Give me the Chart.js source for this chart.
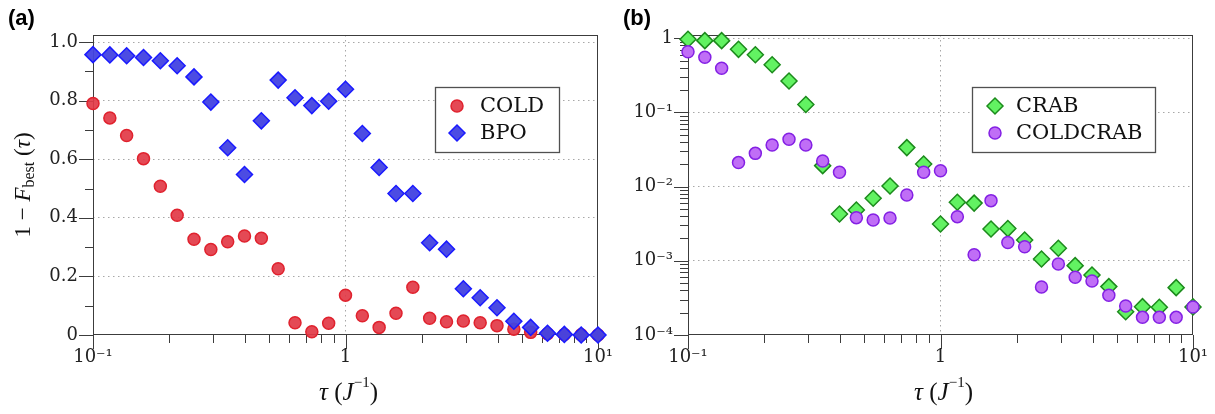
<!DOCTYPE html>
<html lang="en">
<head>
    <meta charset="UTF-8">
    <title>Fidelity vs tau</title>
    <script src="https://cdn.jsdelivr.net/npm/chart.js"></script>
    <style>
        body { margin: 0; background: #fff; width: 1215px; height: 414px; overflow: hidden; position: relative; }
        .panel { position: absolute; top: 0; }
        #panelA { left: 0; }
        #panelB { left: 607px; }
    </style>
</head>
<body>
    <div class="panel" id="panelA"><canvas id="chartA" width="638" height="414"></canvas></div>
    <div class="panel" id="panelB"><canvas id="chartB" width="626" height="414"></canvas></div>

    <script>
        // tau values (J^-1), shared by both panels
        const tau = [0.1, 0.1166, 0.1359, 0.1585, 0.1848, 0.2154, 0.2512, 0.2929, 0.3415, 0.3981,
                     0.4642, 0.5412, 0.631, 0.7356, 0.8577, 1, 1.166, 1.359, 1.585, 1.848,
                     2.154, 2.512, 2.929, 3.415, 3.981, 4.642, 5.412, 6.31, 7.356, 8.577, 10];

        // panel (a): 1 - F_best, linear axis
        const cold = [0.790, 0.741, 0.681, 0.602, 0.508, 0.409, 0.327, 0.292, 0.318, 0.338,
                      0.330, 0.226, 0.042, 0.011, 0.040, 0.136, 0.066, 0.026, 0.074, 0.163,
                      0.057, 0.045, 0.048, 0.042, 0.032, 0.020, 0.009, 0.004, 0.002, 0.001, 0.0];
        const bpo = [0.957, 0.956, 0.953, 0.947, 0.936, 0.919, 0.881, 0.795, 0.639, 0.548,
                     0.731, 0.870, 0.810, 0.783, 0.798, 0.839, 0.688, 0.572, 0.483, 0.483,
                     0.315, 0.293, 0.158, 0.127, 0.093, 0.047, 0.026, 0.006, 0.002, 0.0, 0.0];

        // panel (b): 1 - F_best, log axis
        const crab = [0.97, 0.93, 0.93, 0.71, 0.60, 0.44, 0.266, 0.128, 0.0192, 0.00428,
                      0.00484, 0.00697, 0.0102, 0.0336, 0.0202, 0.00314, 0.00615, 0.0060, 0.00269, 0.00272,
                      0.00191, 0.00106, 0.00148, 0.000861, 0.000644, 0.000449, 0.000206, 0.000241, 0.000236, 0.000435, 0.000239];
        const coldcrab = [0.66, 0.554, 0.394, 0.0211, 0.0281, 0.0365, 0.0435, 0.0365, 0.0222, 0.0156,
                          0.00382, 0.00355, 0.00378, 0.00773, 0.0156, 0.0164, 0.00394, 0.00121, 0.00648, 0.00177,
                          0.00155, 0.000444, 0.000906, 0.0006, 0.000535, 0.000343, 0.000246, 0.000173, 0.000173, 0.000173, 0.000239];

        // ticks
        const xTickValues = [0.1, 0.2, 0.3, 0.4, 0.5, 0.6, 0.7, 0.8, 0.9, 1, 2, 3, 4, 5, 6, 7, 8, 9, 10];
        const xMajor = [0.1, 1, 10];
        const xMajorLabels = ['10\u207B\u00B9', '1', '10\u00B9'];
        const yTickValuesA = [0, 0.1, 0.2, 0.3, 0.4, 0.5, 0.6, 0.7, 0.8, 0.9, 1.0];
        const yMajorA = [0, 0.2, 0.4, 0.6, 0.8, 1.0];
        const yMajorLabelsA = ['0', '0.2', '0.4', '0.6', '0.8', '1.0'];
        const yDecadesB = [1e-4, 1e-3, 1e-2, 1e-1, 1];
        const yMajorLabelsB = ['10\u207B\u2074', '10\u207B\u00B3', '10\u207B\u00B2', '10\u207B\u00B9', '1'];

        const yTickValuesB = [];
        yDecadesB.forEach((d, i) => {
            if (i === yDecadesB.length - 1) { yTickValuesB.push(d); return; }
            for (let m = 1; m <= 9; m++) yTickValuesB.push(+(d * m).toPrecision(3));
        });

        const near = (a, b) => Math.abs(a - b) <= Math.abs(b) * 1e-6 + 1e-9;
        const findIn = (list, v) => list.findIndex(m => near(v, m));

        const tickFont = { family: 'DejaVu Serif', size: 18 };
        const gridColor = '#a8a8a8';

        function xScale() {
            return {
                type: 'logarithmic',
                min: 0.1, max: 10,
                afterBuildTicks: s => { s.ticks = xTickValues.map(v => ({ value: v })); },
                afterFit: s => { s.height = 79; },
                ticks: {
                    autoSkip: false, maxRotation: 0, padding: 12, color: '#222', font: tickFont,
                    callback: v => { const i = findIn(xMajor, v); return i >= 0 ? xMajorLabels[i] : ''; }
                },
                grid: {
                    drawTicks: false, lineWidth: 1,
                    color: c => (c.tick && near(c.tick.value, 1)) ? gridColor : 'rgba(0,0,0,0)'
                },
                border: { display: false, dash: [1.5, 3.5] }
            };
        }

        // frame, tick marks, legend, axis titles, panel letter
        function decorPlugin(cfg) {
            return {
                id: 'decor',
                beforeDatasetsDraw(chart) {
                    const { ctx, chartArea: a, scales: { x, y } } = chart;
                    ctx.save();
                    ctx.strokeStyle = '#3c3c3c';
                    ctx.lineWidth = 1;
                    ctx.strokeRect(Math.round(a.left) + 0.5, Math.round(a.top) + 0.5,
                                   Math.round(a.right - a.left) - 1, Math.round(a.bottom - a.top) - 1);
                    ctx.beginPath();
                    x.ticks.forEach(t => {
                        const px = Math.round(x.getPixelForValue(t.value)) + 0.5;
                        const len = findIn(xMajor, t.value) >= 0 ? 14 : 8;
                        ctx.moveTo(px, a.bottom); ctx.lineTo(px, a.bottom + len);
                    });
                    y.ticks.forEach(t => {
                        const py = Math.round(y.getPixelForValue(t.value)) + 0.5;
                        const len = cfg.yIsMajor(t.value) ? 14 : 8;
                        ctx.moveTo(a.left, py); ctx.lineTo(a.left - len, py);
                    });
                    ctx.stroke();
                    ctx.restore();
                },
                afterDraw(chart) {
                    const { ctx, chartArea: a } = chart;
                    ctx.save();
                    // legend
                    const L = cfg.legend;
                    ctx.fillStyle = '#fff';
                    ctx.fillRect(L.x, L.y, L.w, L.h);
                    ctx.strokeStyle = '#505050';
                    ctx.lineWidth = 1.3;
                    ctx.strokeRect(L.x + 0.5, L.y + 0.5, L.w, L.h);
                    L.items.forEach((it, i) => {
                        const ds = chart.data.datasets[it];
                        const cy = L.y + 19 + i * 27;
                        ctx.fillStyle = ds.backgroundColor;
                        ctx.strokeStyle = ds.borderColor;
                        ctx.lineWidth = ds.borderWidth;
                        Chart.helpers.drawPoint(ctx, { pointStyle: ds.pointStyle, radius: ds.pointRadius, rotation: 0, borderWidth: ds.borderWidth }, L.mx, cy);
                        ctx.fillStyle = '#111';
                        ctx.font = '21px "DejaVu Serif"';
                        ctx.textBaseline = 'middle';
                        ctx.textAlign = 'left';
                        ctx.fillText(ds.label, L.tx, cy + 1);
                    });
                    // x title
                    const serif = '"Liberation Serif", "DejaVu Serif", serif';
                    const xParts = [
                        { t: '\u03C4', f: 'italic 25px ' + serif },
                        { t: ' (', f: '25px ' + serif },
                        { t: 'J', f: 'italic 25px ' + serif },
                        { t: '\u22121', f: '15px ' + serif, dy: -10 },
                        { t: ')', f: '25px ' + serif }
                    ];
                    drawRich(ctx, xParts, (a.left + a.right) / 2 + 3, 393, 0);
                    if (cfg.yTitle) {
                        const yParts = [
                            { t: '1 \u2212 ', f: '23px ' + serif },
                            { t: 'F', f: 'italic 23px ' + serif },
                            { t: 'best', f: '16px ' + serif, dy: 6 },
                            { t: ' (', f: '23px ' + serif },
                            { t: '\u03C4', f: 'italic 23px ' + serif },
                            { t: ')', f: '23px ' + serif }
                        ];
                        drawRich(ctx, yParts, 24, (a.top + a.bottom) / 2, -Math.PI / 2);
                    }
                    // panel letter
                    ctx.fillStyle = '#000';
                    ctx.font = 'bold 22px "Liberation Sans", Arial, sans-serif';
                    ctx.textAlign = 'left';
                    ctx.textBaseline = 'alphabetic';
                    ctx.fillText(cfg.letter, cfg.letterX, 25);
                    ctx.restore();
                }
            };
        }

        function drawRich(ctx, parts, cx, cy, rot) {
            ctx.save();
            ctx.translate(cx, cy);
            ctx.rotate(rot);
            let total = 0;
            parts.forEach(p => { ctx.font = p.f; p.w = ctx.measureText(p.t).width; total += p.w; });
            let x = -total / 2;
            ctx.fillStyle = '#111';
            ctx.textBaseline = 'middle';
            ctx.textAlign = 'left';
            parts.forEach(p => { ctx.font = p.f; ctx.fillText(p.t, x, p.dy || 0); x += p.w; });
            ctx.restore();
        }

        function pts(ys) { return tau.map((t, i) => ({ x: t, y: ys[i] })); }

        const common = {
            responsive: false,
            animation: false,
            events: [],
            plugins: { legend: { display: false }, tooltip: { enabled: false } }
        };

        // right padding is wide so the "10¹" overhang never shrinks the plot area
        new Chart(document.getElementById('chartA'), {
            type: 'scatter',
            data: {
                datasets: [
                    { label: 'COLD', data: pts(cold), order: 2, clip: false, pointStyle: 'circle', pointRadius: 6,
                      backgroundColor: 'rgba(226,58,70,0.92)', borderColor: '#e0222e', borderWidth: 1.5 },
                    { label: 'BPO', data: pts(bpo), order: 1, clip: false, pointStyle: 'rectRot', pointRadius: 8,
                      backgroundColor: 'rgba(66,66,226,0.95)', borderColor: '#1a1aff', borderWidth: 1.5 }
                ]
            },
            options: Object.assign({}, common, {
                layout: { padding: { left: 0, right: 40, top: 35, bottom: 0 } },
                scales: {
                    x: xScale(),
                    y: {
                        type: 'linear', min: 0, max: 1.024,
                        afterBuildTicks: s => { s.ticks = yTickValuesA.map(v => ({ value: v })); },
                        afterFit: s => { s.width = 93; },
                        ticks: {
                            autoSkip: false, padding: 15, color: '#222', font: tickFont,
                            callback: v => { const i = findIn(yMajorA, v); return i >= 0 ? yMajorLabelsA[i] : ''; }
                        },
                        grid: {
                            drawTicks: false, lineWidth: 1,
                            color: c => (c.tick && c.tick.value > 0.01 && findIn(yMajorA, c.tick.value) >= 0) ? gridColor : 'rgba(0,0,0,0)'
                        },
                        border: { display: false, dash: [1.5, 3.5] }
                    }
                }
            }),
            plugins: [decorPlugin({
                letter: '(a)', letterX: 8, yTitle: true,
                yIsMajor: v => findIn(yMajorA, v) >= 0,
                legend: { x: 435, y: 87, w: 124, h: 65, mx: 457, tx: 480, items: [0, 1] }
            })]
        });

        new Chart(document.getElementById('chartB'), {
            type: 'scatter',
            data: {
                datasets: [
                    { label: 'CRAB', data: pts(crab), order: 2, clip: false, pointStyle: 'rectRot', pointRadius: 8,
                      backgroundColor: '#62f262', borderColor: '#1c8a1c', borderWidth: 1.5 },
                    { label: 'COLDCRAB', data: pts(coldcrab), order: 1, clip: false, pointStyle: 'circle', pointRadius: 6,
                      backgroundColor: '#c06ef6', borderColor: '#8420e4', borderWidth: 1.5 }
                ]
            },
            options: Object.assign({}, common, {
                layout: { padding: { left: 0, right: 40, top: 35, bottom: 0 } },
                scales: {
                    x: xScale(),
                    y: {
                        type: 'logarithmic', min: 1e-4, max: 1.108,
                        afterBuildTicks: s => { s.ticks = yTickValuesB.map(v => ({ value: v })); },
                        afterFit: s => { s.width = 81; },
                        ticks: {
                            autoSkip: false, padding: 15, color: '#222', font: tickFont,
                            callback: v => { const i = findIn(yDecadesB, v); return i >= 0 ? yMajorLabelsB[i] : ''; }
                        },
                        grid: {
                            drawTicks: false, lineWidth: 1,
                            color: c => (c.tick && c.tick.value > 2e-4 && findIn(yDecadesB, c.tick.value) >= 0) ? gridColor : 'rgba(0,0,0,0)'
                        },
                        border: { display: false, dash: [1.5, 3.5] }
                    }
                }
            }),
            plugins: [decorPlugin({
                letter: '(b)', letterX: 16, yTitle: false,
                yIsMajor: v => findIn(yDecadesB, v) >= 0,
                legend: { x: 972 - 607, y: 87, w: 183, h: 65, mx: 995 - 607, tx: 1016 - 607, items: [0, 1] }
            })]
        });
    </script>
</body>
</html>
